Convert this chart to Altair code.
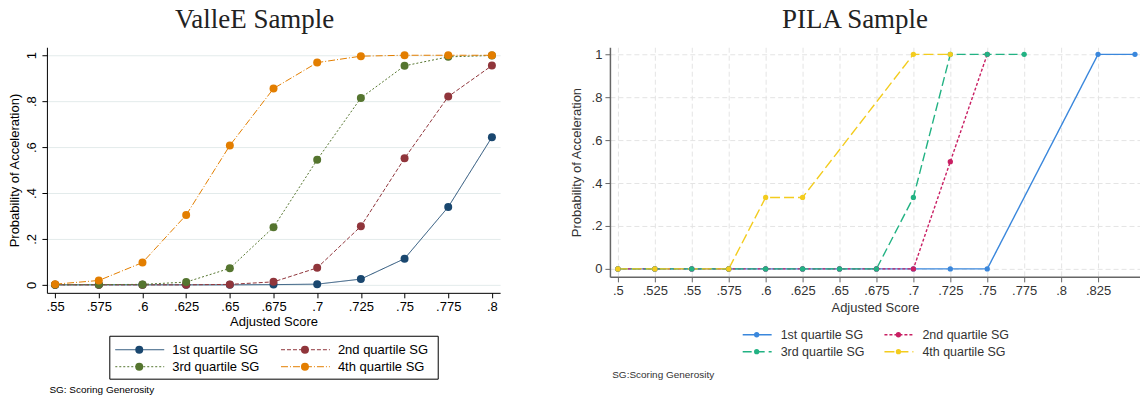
import altair as alt
import pandas as pd

# ---------------- data ----------------
series_names = ["1st quartile SG", "2nd quartile SG", "3rd quartile SG", "4th quartile SG"]

valle_x = [0.55, 0.575, 0.6, 0.625, 0.65, 0.675, 0.7, 0.725, 0.75, 0.775, 0.8]
valle_q1 = [0.000, 0.000, 0.000, 0.000, 0.000, 0.001, 0.003, 0.025, 0.114, 0.339, 0.643]
valle_q2 = [0.000, 0.000, 0.000, 0.000, 0.002, 0.013, 0.074, 0.255, 0.551, 0.820, 0.955]
valle_q3 = [0.000, 0.001, 0.002, 0.012, 0.072, 0.251, 0.545, 0.814, 0.954, 0.993, 0.999]
valle_q4 = [0.003, 0.019, 0.097, 0.304, 0.607, 0.855, 0.968, 0.996, 1.000, 1.000, 1.000]

pila_q1_x = [0.5, 0.525, 0.55, 0.575, 0.6, 0.625, 0.65, 0.675, 0.7, 0.725, 0.75, 0.825, 0.85]
pila_q1_y = [0, 0, 0, 0, 0, 0, 0, 0, 0, 0, 0, 1, 1]
pila_q2_x = [0.5, 0.525, 0.55, 0.575, 0.6, 0.625, 0.65, 0.675, 0.7, 0.725, 0.75]
pila_q2_y = [0, 0, 0, 0, 0, 0, 0, 0, 0, 0.5, 1]
pila_q3_x = [0.5, 0.525, 0.55, 0.575, 0.6, 0.625, 0.65, 0.675, 0.7, 0.725, 0.75, 0.775]
pila_q3_y = [0, 0, 0, 0, 0, 0, 0, 0, 0.333, 1, 1, 1]
pila_q4_x = [0.5, 0.525, 0.575, 0.6, 0.625, 0.7, 0.725]
pila_q4_y = [0, 0, 0, 0.333, 0.333, 1, 1]

valle_ticks = [0.55, 0.575, 0.6, 0.625, 0.65, 0.675, 0.7, 0.725, 0.75, 0.775, 0.8]
pila_ticks = [0.5, 0.525, 0.55, 0.575, 0.6, 0.625, 0.65, 0.675, 0.7, 0.725, 0.75, 0.775, 0.8, 0.825]
y_ticks = [0, 0.2, 0.4, 0.6, 0.8, 1]

titles = ["ValleE Sample", "PILA Sample"]
y_titles = ["Probability of Acceleration)", "Probability of Acceleration"]
x_title = "Adjusted Score"
notes = ["SG: Scoring Generosity", "SG:Scoring Generosity"]

# ---------------- styles ----------------
valle_colors = ["#1a476f", "#90353b", "#55752f", "#e37e00"]
valle_dashes = [[1, 0], [4, 2], [2, 2], [7, 2, 1, 2]]
pila_colors = ["#3a87dc", "#c91f63", "#22b283", "#f3cc1e"]
pila_dashes = [[1, 0], [3, 2], [9, 4], [10, 4]]

LABEL_EXPR = ("datum.value > 0 && datum.value < 1 ? "
              "substring(format(datum.value, '.3~f'), 1) : format(datum.value, '.3~f')")
FONT = "Liberation Sans"
TITLE_SIZE = 27

# ---------------- frames ----------------
valle_df = pd.DataFrame({
    "series": sum([[s] * len(valle_x) for s in series_names], []),
    "x": valle_x * 4,
    "y": valle_q1 + valle_q2 + valle_q3 + valle_q4,
})

pila_parts = []
for s, xs, ys in zip(series_names,
                     [pila_q1_x, pila_q2_x, pila_q3_x, pila_q4_x],
                     [pila_q1_y, pila_q2_y, pila_q3_y, pila_q4_y]):
    pila_parts.append(pd.DataFrame({"series": s, "x": xs, "y": ys}))
pila_df = pd.concat(pila_parts, ignore_index=True)

legend_df = pd.DataFrame({
    "series": series_names,
    "col": [i % 2 for i in range(len(series_names))],
    "row": [i // 2 for i in range(len(series_names))],
})


def color_enc(colors):
    return alt.Color("series:N", scale=alt.Scale(domain=series_names, range=colors), legend=None)


def dash_enc(dashes):
    return alt.StrokeDash("series:N", scale=alt.Scale(domain=series_names, range=dashes), legend=None)


# ---------------- left panel (ValleE) ----------------
lx = alt.X("x:Q",
           scale=alt.Scale(domain=[0.5453, 0.8047], nice=False, zero=False),
           axis=alt.Axis(values=valle_ticks, labelExpr=LABEL_EXPR, title=x_title,
                         grid=False, domainColor="black", domainWidth=1,
                         tickColor="black", tickSize=5, labelColor="black",
                         labelFontSize=13, labelPadding=3, titleFontSize=13,
                         titleFontWeight="normal", titleColor="black", titlePadding=2,
                         labelFlush=False))
ly = alt.Y("y:Q",
           scale=alt.Scale(domain=[-0.0348, 1.0348], nice=False, zero=False),
           axis=alt.Axis(values=y_ticks, labelExpr=LABEL_EXPR, title=y_titles[0],
                         grid=True, gridColor="#e3ebeb", gridWidth=1,
                         domainColor="black", domainWidth=1, tickColor="black", tickSize=5,
                         labelAngle=270, labelAlign="center", labelBaseline="bottom",
                         labelColor="black", labelFontSize=13, labelPadding=3,
                         titleFontSize=13, titleFontWeight="normal", titleColor="black",
                         titlePadding=4, labelFlush=False))

left_lines = alt.Chart(valle_df).mark_line(strokeWidth=1).encode(
    x=lx, y=ly, color=color_enc(valle_colors), strokeDash=dash_enc(valle_dashes))
left_points = alt.Chart(valle_df).mark_point(filled=True, size=64, opacity=1).encode(
    x="x:Q", y="y:Q", color=color_enc(valle_colors))
left_plot = alt.layer(left_lines, left_points).properties(
    width=454, height=246,
    title=alt.TitleParams(titles[0], font="Liberation Serif", fontSize=TITLE_SIZE,
                          fontWeight="normal", color="#222222", anchor="middle",
                          dx=-19, offset=-8, baseline="alphabetic"))

lgx = alt.X("col:Q", scale=alt.Scale(domain=[0, 1], range=[30, 196]), axis=None)
lgy = alt.Y("row:Q", scale=alt.Scale(domain=[0, 1], range=[14, 31]), axis=None)
left_leg_rule = alt.Chart(legend_df).mark_rule(xOffset=-24, x2Offset=25, strokeWidth=1).encode(
    x=lgx, x2="col", y=lgy, color=color_enc(valle_colors), strokeDash=dash_enc(valle_dashes))
left_leg_pt = alt.Chart(legend_df).mark_point(filled=True, size=64, opacity=1).encode(
    x="col:Q", y="row:Q", color=color_enc(valle_colors))
left_leg_txt = alt.Chart(legend_df).mark_text(align="left", baseline="middle", dx=33,
                                              fontSize=13, color="black", font=FONT).encode(
    x="col:Q", y="row:Q", text="series:N")
left_legend = alt.layer(left_leg_rule, left_leg_pt, left_leg_txt).properties(
    width=329, height=43, view=alt.ViewBackground(stroke="black", strokeWidth=1),
    title=alt.TitleParams(notes[0], orient="bottom", anchor="start", dx=-60, offset=6,
                          baseline="top", fontSize=10, fontWeight="normal",
                          color="black", font=FONT))

left_panel = alt.vconcat(left_plot, left_legend, spacing=43, center=True, bounds="flush")

# ---------------- right panel (PILA) ----------------
rx = alt.X("x:Q",
           scale=alt.Scale(domain=[0.4946, 0.8534], nice=False, zero=False),
           axis=alt.Axis(values=pila_ticks, labelExpr=LABEL_EXPR, title=x_title,
                         grid=True, gridColor="#e4e4e4", gridDash=[5, 3], gridWidth=1,
                         domainColor="#666666", domainWidth=1.5,
                         tickColor="#666666", tickSize=5, labelColor="#333333",
                         labelFontSize=13, labelPadding=3, titleFontSize=13,
                         titleFontWeight="normal", titleColor="#333333", titlePadding=4,
                         labelFlush=False))
ry = alt.Y("y:Q",
           scale=alt.Scale(domain=[-0.037, 1.033], nice=False, zero=False),
           axis=alt.Axis(values=y_ticks, labelExpr=LABEL_EXPR, title=y_titles[1],
                         grid=True, gridColor="#e4e4e4", gridDash=[5, 3], gridWidth=1,
                         domainColor="#666666", domainWidth=1.5,
                         tickColor="#666666", tickSize=5, labelAngle=0,
                         labelColor="#333333", labelFontSize=13, labelPadding=3,
                         titleFontSize=13, titleFontWeight="normal", titleColor="#333333",
                         titlePadding=8, labelFlush=False))

right_lines = alt.Chart(pila_df).mark_line(strokeWidth=1.4).encode(
    x=rx, y=ry, color=color_enc(pila_colors), strokeDash=dash_enc(pila_dashes))
right_points = alt.Chart(pila_df).mark_point(filled=True, size=28, opacity=1).encode(
    x="x:Q", y="y:Q", color=color_enc(pila_colors))
right_plot = alt.layer(right_lines, right_points).properties(
    width=531, height=230,
    title=alt.TitleParams(titles[1], font="Liberation Serif", fontSize=TITLE_SIZE,
                          fontWeight="normal", color="#222222", anchor="middle",
                          dx=-20, offset=-8, baseline="alphabetic"))

rgx = alt.X("col:Q", scale=alt.Scale(domain=[0, 1], range=[14, 156]), axis=None)
rgy = alt.Y("row:Q", scale=alt.Scale(domain=[0, 1], range=[8, 25]), axis=None)
right_leg_rule = alt.Chart(legend_df).mark_rule(xOffset=-14, x2Offset=15, strokeWidth=1.4).encode(
    x=rgx, x2="col", y=rgy, color=color_enc(pila_colors), strokeDash=dash_enc(pila_dashes))
right_leg_pt = alt.Chart(legend_df).mark_point(filled=True, size=28, opacity=1).encode(
    x="col:Q", y="row:Q", color=color_enc(pila_colors))
right_leg_txt = alt.Chart(legend_df).mark_text(align="left", baseline="middle", dx=24,
                                               fontSize=12.5, color="#333333", font=FONT).encode(
    x="col:Q", y="row:Q", text="series:N")
right_legend = alt.layer(right_leg_rule, right_leg_pt, right_leg_txt).properties(
    width=265, height=34,
    title=alt.TitleParams(notes[1], orient="bottom", anchor="start", dx=-130, offset=9,
                          baseline="top", fontSize=10, fontWeight="normal",
                          color="#333333", font=FONT))

right_panel = alt.vconcat(right_plot, right_legend, spacing=50, center=True, bounds="flush")

chart = alt.hconcat(left_panel, right_panel, spacing=70).resolve_scale(
    color="independent", strokeDash="independent"
).properties(
    padding={"left": 9, "top": 6, "right": 0, "bottom": 0}
).configure(
    font=FONT, background="white"
).configure_view(stroke=None)

chart.save("out.html", embed_options={"renderer": "svg", "actions": False})
